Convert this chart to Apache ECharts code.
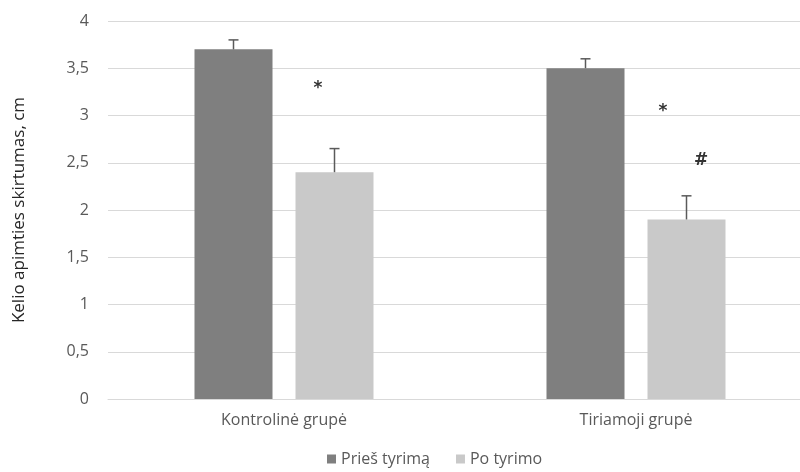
<!DOCTYPE html>
<html><head><meta charset="utf-8">
<script src="https://cdn.jsdelivr.net/npm/echarts@6/dist/echarts.min.js"></script>
<style>html,body{margin:0;padding:0;background:#fff;overflow:hidden}#c{width:812px;height:472px}</style>
</head><body><div id="c"></div>
<script>
const categories = ['Kontrolinė grupė', 'Tiriamoji grupė'];
const seriesNames = ['Prieš tyrimą', 'Po tyrimo'];
const beforeValues = [3.7, 3.5];
const afterValues = [2.4, 1.9];
const beforeErrors = [0.1, 0.1];
const afterErrors = [0.25, 0.25];
const yTicks = ['0', '0,5', '1', '1,5', '2', '2,5', '3', '3,5', '4'];
// annotations: [categoryIndex, value, text, pixel offset from category centre]
const annotations = [[0, 3.28, '*', 34], [1, 3.04, '*', 27], [1, 2.52, '#', 65]];

const FONT = 'Open Sans';
const chart = echarts.init(document.getElementById('c'));
const BW = 78, GAP = 23;

function errSeries(errs, vals, sIdx) {
  return {
    type: 'custom', z: 5, silent: true,
    data: vals.map((v, i) => [i, v, errs[i]]),
    renderItem: function (params, api) {
      const c = api.coord([api.value(0), api.value(1)]);
      const t = api.coord([api.value(0), api.value(1) + api.value(2)]);
      const off = (sIdx === 0 ? -1 : 1) * (BW / 2 + GAP / 2);
      const x = c[0] + off;
      const st = { stroke: '#5a5a5a', lineWidth: 1.5 };
      return { type: 'group', children: [
        { type: 'line', shape: { x1: x, y1: c[1], x2: x, y2: t[1] }, style: st },
        { type: 'line', shape: { x1: x - 5, y1: t[1], x2: x + 5, y2: t[1] }, style: st }
      ]};
    }
  };
}

chart.setOption({
  animation: false,
  grid: { left: 108, right: 0, top: 21, bottom: 73 },
  legend: {
    data: seriesNames, bottom: 0, left: 322, itemWidth: 9, itemHeight: 9, itemGap: 26,
    icon: 'rect',
    textStyle: { fontFamily: FONT, fontSize: 16, color: '#595959' }
  },
  xAxis: {
    type: 'category', data: categories,
    axisLine: { lineStyle: { color: '#d9d9d9', width: 1 } },
    axisTick: { show: false },
    axisLabel: { fontFamily: FONT, fontSize: 16, color: '#595959', margin: 13 }
  },
  yAxis: {
    type: 'value', min: 0, max: 4, interval: 0.5,
    name: 'Kelio apimties skirtumas, cm', nameLocation: 'middle', nameGap: 80,
    nameTextStyle: { fontFamily: FONT, fontSize: 17, color: '#262626' },
    axisLine: { show: false }, axisTick: { show: false },
    splitLine: { lineStyle: { color: '#d9d9d9', width: 1 } },
    axisLabel: { fontFamily: FONT, fontSize: 16, color: '#595959', margin: 19,
      formatter: v => yTicks[Math.round(v / 0.5)] }
  },
  series: [
    { name: seriesNames[0], type: 'bar', data: beforeValues, barWidth: BW, barGap: (GAP / BW * 100) + '%',
      itemStyle: { color: '#7f7f7f' } },
    { name: seriesNames[1], type: 'bar', data: afterValues, barWidth: BW,
      itemStyle: { color: '#c9c9c9' } },
    errSeries(beforeErrors, beforeValues, 0),
    errSeries(afterErrors, afterValues, 1),
    { type: 'custom', z: 6, silent: true, data: annotations,
      renderItem: function (params, api) {
        const p = api.coord([api.value(0), api.value(1)]);
        const a = annotations[params.dataIndex];
        return { type: 'text', x: p[0] + a[3], y: p[1],
          style: { text: a[2], fontFamily: 'DejaVu Sans', fontSize: 17,
            fontWeight: 'bold', fill: '#333', align: 'center', verticalAlign: 'middle' } };
      } }
  ]
});
</script></body></html>
